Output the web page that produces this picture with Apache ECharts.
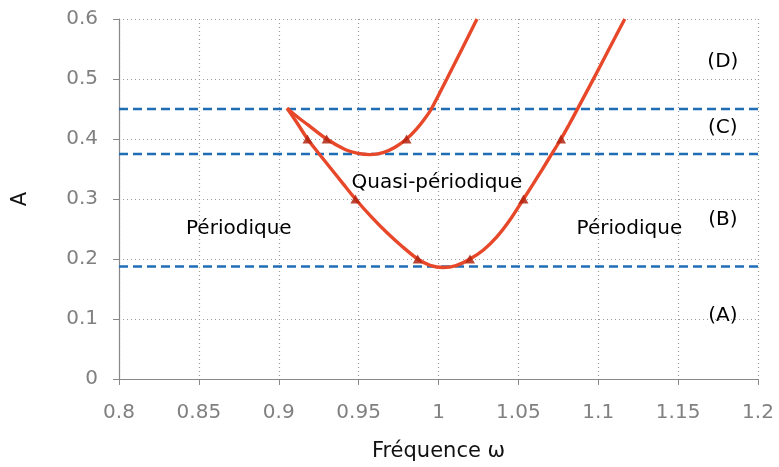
<!DOCTYPE html>
<html>
<head>
<meta charset="utf-8">
<script src="https://cdn.jsdelivr.net/npm/echarts@6/dist/echarts.min.js"></script>
<style>html,body{margin:0;padding:0;background:#fff;}#c{width:779px;height:467px;}</style>
</head>
<body>
<div id="c"></div>
<script>
// Upper branch (from the cusp, through the upper minimum, out the top)
const upperX = [0.9052, 0.9108, 0.9177, 0.930, 0.9415, 0.9496, 0.9571, 0.9653, 0.9728, 0.980, 0.9859, 0.9909, 0.9955, 1.0052, 1.0147, 1.0241];
const upperY = [0.4512, 0.4388, 0.4247, 0.400, 0.3826, 0.3760, 0.3740, 0.3773, 0.3862, 0.400, 0.4156, 0.4321, 0.4500, 0.5000, 0.5500, 0.600];
// Lower branch (from the cusp, through the lower minimum, out the top right)
const lowerX = [0.9052, 0.9114, 0.918, 0.9246, 0.9321, 0.9402, 0.948, 0.9577, 0.9678, 0.9778, 0.987, 0.9947, 1.0028, 1.0110, 1.0197, 1.0281, 1.0365, 1.0448, 1.0532, 1.0590, 1.0650, 1.0710, 1.0767, 1.0817, 1.0867, 1.0967, 1.1066, 1.1166];
const lowerY = [0.4512, 0.4271, 0.400, 0.3775, 0.3525, 0.3257, 0.300, 0.2709, 0.2436, 0.2196, 0.200, 0.1895, 0.1858, 0.1891, 0.200, 0.2151, 0.2369, 0.2654, 0.300, 0.3240, 0.3495, 0.3755, 0.400, 0.4238, 0.4485, 0.4985, 0.5493, 0.600];
// Triangle markers
const markerX = [0.918, 0.930, 0.980, 0.948, 0.987, 1.0197, 1.0532, 1.0767];
const markerY = [0.400, 0.400, 0.400, 0.300, 0.200, 0.200, 0.300, 0.400];
// Horizontal threshold levels (dashed)
const levels = [0.1875, 0.375, 0.45];
// Annotations
const annoText = ['Périodique', 'Quasi-périodique', 'Périodique', '(D)', '(C)', '(B)', '(A)'];
const annoX = [0.875, 0.999, 1.1195, 1.178, 1.178, 1.178, 1.178];
const annoY = [0.25, 0.327, 0.25, 0.529, 0.418, 0.266, 0.106];
// Axes
const xMin = 0.8, xMax = 1.2, xStep = 0.05;
const yMin = 0, yMax = 0.6, yStep = 0.1;

const FONT = 'DejaVu Sans';
const zip = (xs, ys) => xs.map((x, i) => [x, ys[i]]);
const curveColor = '#e8482a';
const dashColor = '#1f6db5';

const series = [];
levels.forEach(v => {
  series.push({
    type: 'line', data: [[xMin, v], [xMax, v]], symbol: 'none', silent: true,
    lineStyle: { color: dashColor, width: 2.5, type: [9, 5] }, z: 2
  });
});
[[upperX, upperY], [lowerX, lowerY]].forEach(([xs, ys]) => {
  series.push({
    type: 'line', data: zip(xs, ys), smooth: 0.3, symbol: 'none',
    lineStyle: { color: curveColor, width: 3.4 }, z: 3
  });
});
series.push({
  type: 'scatter', data: zip(markerX, markerY), symbol: 'triangle', symbolSize: [10, 9],
  itemStyle: { color: 'rgb(178,38,18)', opacity: 0.85 }, z: 4
});
series.push({
  type: 'scatter', symbol: 'circle', symbolSize: 1, z: 5, silent: true,
  itemStyle: { color: 'rgba(255,255,255,0)', opacity: 1 },
  data: annoText.map((t, i) => ({ value: [annoX[i], annoY[i]], name: t })),
  label: { show: true, position: 'inside', formatter: p => p.name, color: '#000', opacity: 1,
    textBorderWidth: 0, fontSize: 20, fontFamily: FONT }
});

const chart = echarts.init(document.getElementById('c'), null, { renderer: 'canvas' });
chart.setOption({
  animation: false,
  backgroundColor: '#ffffff',
  grid: { left: 119, right: 21, top: 19, bottom: 84, containLabel: false },
  xAxis: {
    type: 'value', min: xMin, max: xMax, interval: xStep,
    name: 'Fréquence ω', nameLocation: 'middle', nameGap: 62,
    nameTextStyle: { color: '#111', fontSize: 21, fontFamily: FONT },
    axisLine: { show: true, onZero: false, lineStyle: { color: '#888', width: 1.2 } },
    axisTick: { show: true, inside: false, length: 6, lineStyle: { color: '#888' } },
    axisLabel: { color: '#808080', fontSize: 20, fontFamily: FONT, margin: 24,
      formatter: v => String(parseFloat(v.toFixed(2))) },
    splitLine: { show: true, lineStyle: { color: '#9a9a9a', type: [1, 3], width: 1.2 } }
  },
  yAxis: {
    type: 'value', min: yMin, max: yMax, interval: yStep,
    name: 'A', nameLocation: 'middle', nameGap: 88, nameRotate: 90,
    nameTextStyle: { color: '#111', fontSize: 21, fontFamily: FONT },
    axisLine: { show: true, lineStyle: { color: '#888', width: 1.2 } },
    axisTick: { show: true, inside: false, length: 6, lineStyle: { color: '#888' } },
    axisLabel: { color: '#808080', fontSize: 20, fontFamily: FONT, margin: 21,
      formatter: v => String(parseFloat(v.toFixed(2))) },
    splitLine: { show: true, lineStyle: { color: '#9a9a9a', type: [1, 3], width: 1.2 } }
  },
  series: series
});
</script>
</body>
</html>
